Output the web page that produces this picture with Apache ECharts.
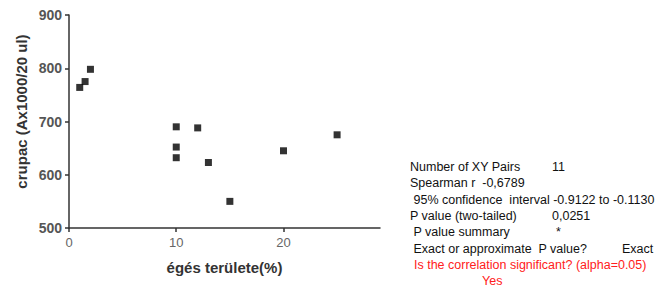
<!DOCTYPE html>
<html>
<head>
<meta charset="utf-8">
<script src="https://cdn.jsdelivr.net/npm/echarts@6/dist/echarts.min.js"></script>
<style>
  html, body { margin: 0; padding: 0; background: #fff; }
  #chart { width: 670px; height: 286px; }
</style>
</head>
<body>
<div id="chart"></div>
<script>
// burned area (%) vs crupac
var burnArea = [1, 1.5, 2, 10, 10, 10, 12, 13, 15, 20, 25];
var crupac = [764, 775, 798, 690, 652, 632, 688, 623, 550, 645, 675];
var xTicks = [0, 10, 20];
var yTicks = [500, 600, 700, 800, 900];

var statLines = [
  ['Number of XY Pairs', '11'],
  ['Spearman r  -0,6789', ''],
  [' 95% confidence  interval -0.9122 to -0.1130', ''],
  ['P value (two-tailed)', '0,0251'],
  [' P value summary', '*'],
  [' Exact or approximate  P value?', 'Exact']
];

(function() {
  var ink = '#333';
  var muted = '#666';
  var points = burnArea.map(function(x, i) { return [x, crupac[i]]; });

  var chart = echarts.init(document.getElementById('chart'), null, { renderer: 'svg' });

  function txt(left, top, text, color) {
    return {
      type: 'text', left: left, top: top,
      style: { text: text, fill: color, fontSize: 12.5, fontFamily: 'Liberation Sans' }
    };
  }
  var graphics = [];
  var rowY = [160, 176, 193, 209, 225, 242];
  var valueX = [552, 0, 0, 552, 556, 622];
  statLines.forEach(function(row, i) {
    graphics.push(txt(410, rowY[i], row[0], '#111'));
    if (row[1]) graphics.push(txt(valueX[i], rowY[i], row[1], '#111'));
  });
  graphics.push(txt(414, 258, 'Is the correlation significant? (alpha=0.05)', '#ff2020'));
  graphics.push(txt(482, 274, 'Yes', '#ff2020'));

  chart.setOption({
    animation: false,
    grid: { left: 69, right: 290, top: 15, bottom: 58 },
    xAxis: {
      type: 'value',
      min: 0, max: 29, interval: 10,
      name: 'égés területe(%)',
      nameLocation: 'middle',
      nameGap: 32,
      nameTextStyle: { color: ink, fontSize: 15, fontWeight: 'bold', fontFamily: 'Liberation Sans' },
      axisLine: { show: true, lineStyle: { color: ink, width: 1.5 } },
      axisTick: { show: true, length: 4, lineStyle: { color: ink, width: 1.5 } },
      axisLabel: {
        color: muted, fontSize: 13, fontFamily: 'Liberation Sans', margin: 8,
        showMaxLabel: false,
        formatter: function(v) { return xTicks.indexOf(v) >= 0 ? v : ''; }
      },
      splitLine: { show: false }
    },
    yAxis: {
      type: 'value',
      min: yTicks[0], max: yTicks[yTicks.length - 1], interval: 100,
      name: 'crupac (Ax1000/20 ul)',
      nameLocation: 'middle',
      nameGap: 40,
      nameTextStyle: { color: ink, fontSize: 15, fontWeight: 'bold', fontFamily: 'Liberation Sans', padding: [0, 0, 0, 20] },
      axisLine: { show: true, lineStyle: { color: ink, width: 1.5 } },
      axisTick: { show: true, length: 4, lineStyle: { color: ink, width: 1.5 } },
      axisLabel: { color: '#555', fontSize: 14, fontWeight: 'bold', fontFamily: 'Liberation Sans', margin: 7 },
      splitLine: { show: false }
    },
    series: [{
      type: 'scatter',
      data: points,
      symbol: 'rect',
      symbolSize: 7,
      itemStyle: { color: '#000' }
    }],
    graphic: graphics
  });
  window.addEventListener('resize', function() { chart.resize(); });
})();
</script>
</body>
</html>
